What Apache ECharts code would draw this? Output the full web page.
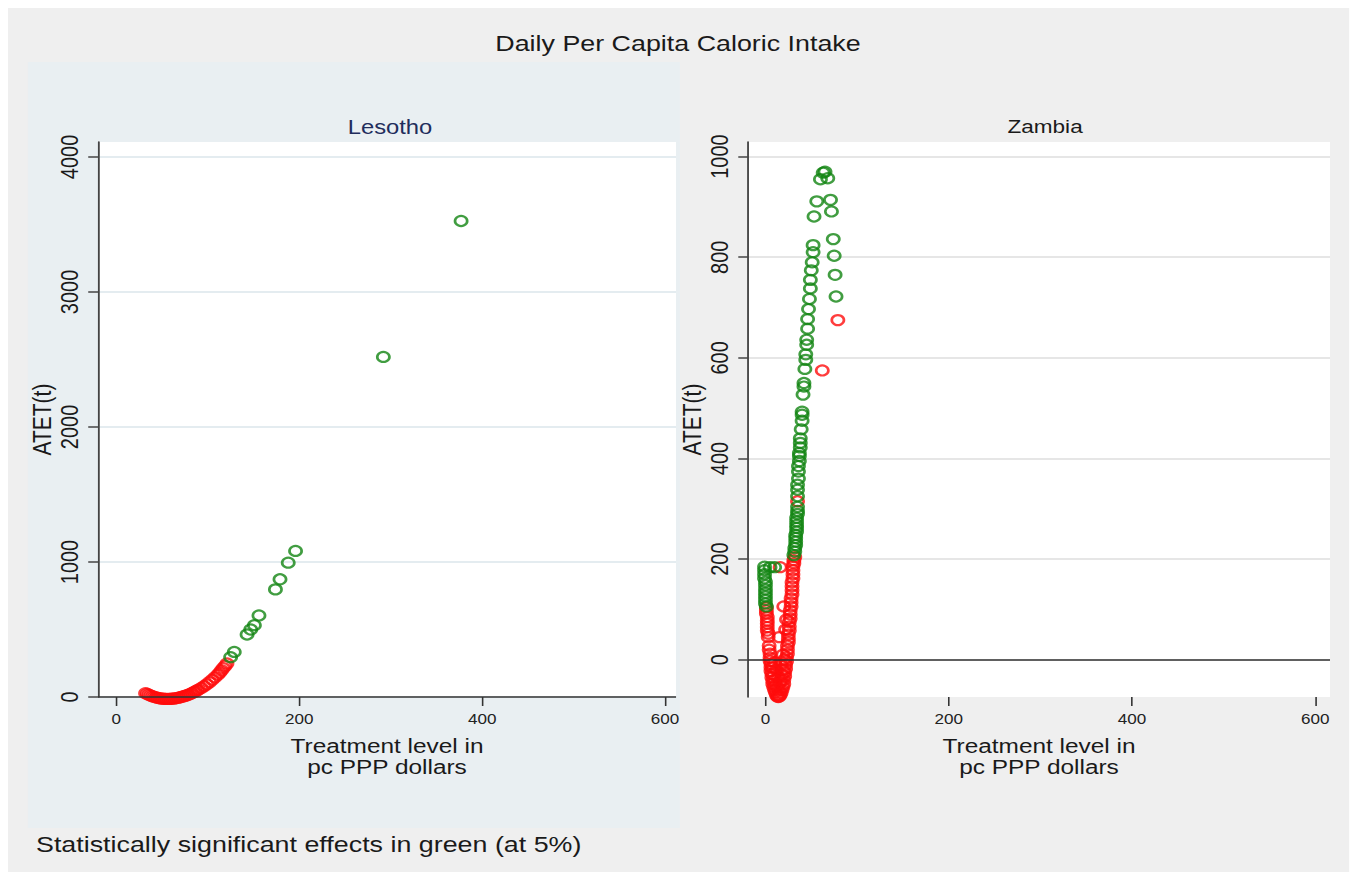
<!DOCTYPE html>
<html>
<head>
<meta charset="utf-8">
<title>Daily Per Capita Caloric Intake</title>
<script src="https://cdn.jsdelivr.net/npm/echarts@6/dist/echarts.min.js"></script>
<style>
  html, body { margin: 0; padding: 0; background: #fff; overflow: hidden; }
  /* 原图是被横向拉伸过的 Stata 图，这里先按窄宽度画，再整体横向拉伸 */
  #main { width: 1112px; height: 880px; transform: scaleX(1.2203); transform-origin: 0 0; }
</style>
</head>
<body>
<div id="main"></div>
<script>
// 数据：横轴 = 处理水平 (pc PPP dollars)，纵轴 = ATET(t)
// 绿色 = 5% 显著，红色 = 不显著
var xTicks = [0, 200, 400, 600];
var lesothoYTicks = [0, 1000, 2000, 3000, 4000];
var zambiaYTicks = [0, 200, 400, 600, 800, 1000];

var lesothoRed = [
  [32, 28], [34, 22], [36, 15], [38, 9], [40, 4], [42, 0], [44, -4], [46, -7], [48, -10], [50, -12],
  [52, -13], [54, -14], [56, -14], [58, -14], [60, -13], [62, -12], [64, -10], [66, -8], [68, -5], [70, -2],
  [72, 2], [74, 6], [76, 10], [78, 15], [80, 20], [82, 26], [84, 33], [86, 40], [88, 47], [90, 55],
  [93, 67], [96, 80], [99, 94], [102, 110], [105, 128], [108, 146], [111, 165], [113, 180], [115, 197],
  [117, 214], [119, 230], [121, 248]
];
var lesothoGreen = [
  [125, 295], [129, 334], [143, 463], [147, 500], [151, 532], [156, 604],
  [174, 797], [179, 872], [188, 995], [196, 1082], [292, 2519], [377, 3526]
];

var zambiaGreen = [
  [-1, 185], [-1, 178], [-1, 170], [-1, 162], [0, 155], [0, 148], [0, 140], [0, 133], [0, 126], [0, 119],
  [0, 112], [1, 106], [5, 184], [10, 184],
  [31, 208], [32, 215], [32, 222], [33, 228], [33, 235], [33, 242], [33, 248], [34, 255], [34, 262], [34, 268],
  [34, 275], [34, 282], [35, 290], [35, 296], [35, 304], [35, 325], [35, 338], [35, 348], [36, 360], [36, 374],
  [36, 385], [37, 395], [37, 405], [37, 411], [38, 422], [38, 431], [38, 440], [39, 458], [40, 475], [40, 487],
  [40, 493], [41, 527], [42, 543], [42, 550], [43, 578], [44, 596], [44, 607], [45, 626], [45, 636], [46, 658],
  [46, 677], [47, 697], [48, 717], [49, 738], [49, 755], [50, 774], [51, 790], [52, 810], [52, 824], [53, 881],
  [56, 911], [60, 955], [63, 968], [65, 970], [68, 957], [71, 914], [72, 891], [74, 836], [75, 803], [76, 765],
  [77, 722]
];
var zambiaRed = [
  [79, 675], [62, 575], [35, 315], [16, 184], [32, 204], [31, 198],
  [1, 104], [1, 98], [1, 92], [2, 85], [2, 78], [2, 72], [2, 65], [2, 58], [3, 52], [3, 45], [4, 28], [4, 20],
  [5, 12], [5, 4], [5, -2], [6, -8], [6, -15], [6, -22], [7, -28], [7, -35], [8, -42], [8, -48], [9, -54],
  [10, -60], [11, -65], [12, -70], [13, -73], [14, -74], [15, -73], [16, -70], [17, -66], [18, -60], [19, -54],
  [20, -48], [20, -40], [21, -33], [21, -25], [22, -18], [22, -10], [23, -3], [23, 5], [24, 12], [24, 20],
  [24, 28], [25, 35], [25, 42], [25, 50], [26, 58], [26, 66], [26, 75], [27, 82], [27, 90], [27, 98],
  [28, 106], [28, 114], [28, 122], [29, 130], [29, 138], [29, 146], [29, 154], [30, 162], [30, 170],
  [30, 178], [30, 186], [31, 192],
  [15, 45], [20, 106], [10, -5], [12, -20], [14, -35], [16, -45], [18, -30], [11, -50], [9, -30], [8, -15],
  [17, -10], [19, 10], [22, 60], [23, 80], [13, -55], [15, -60], [17, -40], [19, -20], [21, 0], [10, -40]
];

var GREEN = '#128412';
var RED = '#ff0d0d';
var FONT = 'Liberation Sans, Arial, sans-serif';

var chart = echarts.init(document.getElementById('main'), null, { renderer: 'svg' });

function xAxisCfg(idx, min, max) {
  return {
    gridIndex: idx, type: 'value', min: min, max: max,
    axisLine: { show: false, onZero: false },
    axisTick: { show: true, customValues: xTicks, length: 9, lineStyle: { color: '#333', width: 1.3 } },
    axisLabel: { customValues: xTicks, fontSize: 14, margin: 15, color: '#222', fontFamily: FONT,
      formatter: function (v) { return String(v); } },
    splitLine: { show: false },
    name: 'Treatment level in\npc PPP dollars',
    nameLocation: 'middle', nameGap: 39,
    nameTextStyle: { fontSize: 20, lineHeight: 21, color: '#1a1a1a', fontFamily: FONT }
  };
}

function yAxisCfg(idx, min, max, ticks, gridColor) {
  return {
    gridIndex: idx, type: 'value', min: min, max: max,
    axisLine: { show: true, onZero: false, lineStyle: { color: '#444', width: 1.5 } },
    axisTick: { show: true, customValues: ticks, length: 8, lineStyle: { color: '#444', width: 1.5 } },
    axisLabel: { customValues: ticks, rotate: 90, fontSize: 20, margin: 13, color: '#1a1a1a', fontFamily: FONT,
      formatter: function (v) { return String(v); } },
    splitLine: { show: true, lineStyle: { color: gridColor, width: 2 } },
    name: 'ATET(t)', nameLocation: 'middle', nameRotate: 90, nameGap: 35,
    nameTextStyle: { fontSize: 21, color: '#1a1a1a', fontFamily: FONT }
  };
}

function dots(name, data, color, idx, zero) {
  var s = {
    name: name, type: 'scatter', xAxisIndex: idx, yAxisIndex: idx,
    data: data, symbol: 'circle', symbolSize: 10, clip: false,
    itemStyle: { color: 'rgba(0,0,0,0)', borderColor: color, borderWidth: 2.2 },
    emphasis: { disabled: true }
  };
  if (zero) {
    // y = 0 参考线
    s.markLine = {
      silent: true, symbol: 'none', label: { show: false },
      lineStyle: { color: '#333', width: 1.5, type: 'solid' },
      data: [{ yAxis: 0 }]
    };
  }
  return s;
}

var option = {
  animation: false,
  backgroundColor: '#fff',
  graphic: [
    { type: 'rect', z: -10, shape: { x: 6.6, y: 8, width: 1099, height: 864 }, style: { fill: '#efefef' } },
    { type: 'rect', z: -9, shape: { x: 22.9, y: 62, width: 534.3, height: 766 }, style: { fill: '#e9eff2' } }
  ],
  title: [
    { text: 'Daily Per Capita Caloric Intake', left: 555.6, top: 32, textAlign: 'center', padding: 0,
      textStyle: { fontSize: 22, fontWeight: 'normal', color: '#1a1a1a', fontFamily: FONT } },
    { text: 'Lesotho', left: 319.6, top: 117, textAlign: 'center', padding: 0,
      textStyle: { fontSize: 19.5, fontWeight: 'normal', color: '#1f2d5c', fontFamily: FONT } },
    { text: 'Zambia', left: 856.4, top: 117, textAlign: 'center', padding: 0,
      textStyle: { fontSize: 18.5, fontWeight: 'normal', color: '#1a1a1a', fontFamily: FONT } },
    { text: 'Statistically significant effects in green (at 5%)', left: 29.5, top: 833, padding: 0,
      textStyle: { fontSize: 22, fontWeight: 'normal', color: '#1a1a1a', fontFamily: FONT } }
  ],
  grid: [
    { left: 80.3, top: 142, width: 473.7, height: 555, show: true, backgroundColor: '#fff', borderWidth: 0 },
    { left: 613, top: 142, width: 476.9, height: 555, show: true, backgroundColor: '#fff', borderWidth: 0 }
  ],
  xAxis: [xAxisCfg(0, -20, 612), xAxisCfg(1, -19, 616)],
  yAxis: [
    yAxisCfg(0, 0, 4111, lesothoYTicks, '#e4ecf0'),
    yAxisCfg(1, -74, 1029, zambiaYTicks, '#e6e6e6')
  ],
  series: [
    dots('Lesotho n.s.', lesothoRed, RED, 0, true),
    dots('Lesotho sig.', lesothoGreen, GREEN, 0, false),
    dots('Zambia n.s.', zambiaRed, RED, 1, true),
    dots('Zambia sig.', zambiaGreen, GREEN, 1, false)
  ]
};

chart.setOption(option);
</script>
</body>
</html>
